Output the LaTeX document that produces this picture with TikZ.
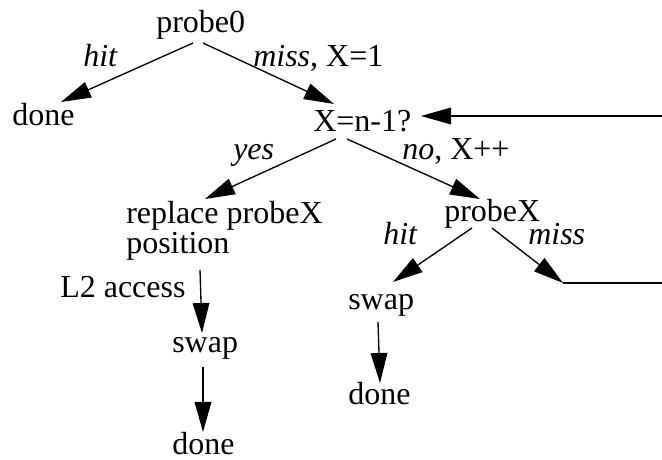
\documentclass[tikz,border=0pt]{standalone}
\usepackage{fontspec}
\setmainfont{Liberation Serif}
\usetikzlibrary{arrows.meta}
\begin{document}
\begin{tikzpicture}[x=0.75pt,y=-0.75pt,
  txt/.style={inner sep=0pt, anchor=base west, font=\fontsize{24}{22.5}\selectfont},
  lbl/.style={inner sep=0pt, anchor=base west, font=\fontsize{24}{22.5}\selectfont},
  arr/.style={line width=1pt, -{Triangle[length=22.5pt,width=12.5pt]}},
  ln/.style={line width=1pt}]
\useasboundingbox (0,0) rectangle (662,460);
% nodes
\node[txt] (probe0) at (156,33) {probe0};
\node[txt] (done1) at (12,126) {done};
\node[txt] (xq) at (313,132) {X=n-1?};
\node[txt, align=left] (rep) at (126,253) {replace probeX\\position};
\node[txt] (probeX) at (444,222) {probeX};
\node[txt] (swapR) at (348,310) {swap};
\node[txt] (doneR) at (348,405) {done};
\node[txt] (swapL) at (172,353) {swap};
\node[txt] (doneL) at (172,455) {done};
% labels
\node[lbl] (lhit1) at (83,67) {\textit{hit}};
\node[lbl] (lmiss1) at (253,67) {\textit{miss}, X=1};
\node[lbl] (lyes) at (233,160) {\textit{yes}};
\node[lbl] (lno) at (402,160) {\textit{no}, X++};
\node[lbl] (lhit2) at (383,245) {\textit{hit}};
\node[lbl] (lmiss2) at (528,245) {\textit{miss}};
\node[lbl] (ll2) at (60,298) {L2 access};
% free ends
\coordinate (loopin) at (662,116);
\coordinate (missend) at (563,283);
\coordinate (loopout) at (662,283);
% connectors
\draw[arr] ([shift={(37,10)}]probe0.base west) -- ([shift={(49,-24)}]done1.base west);
\draw[arr] ([shift={(47,10)}]probe0.base west) -- ([shift={(21,-28)}]xq.base west);
\draw[arr] (loopin) -- ([shift={(108,-16)}]xq.base west);
\draw[arr] ([shift={(23,7)}]xq.base west) -- ([shift={(79,-54)}]rep.base west);
\draw[arr] ([shift={(34,7)}]xq.base west) -- ([shift={(36,-23)}]probeX.base west);
\draw[arr] ([shift={(28,6)}]probeX.base west) -- ([shift={(45,-28)}]swapR.base west);
\draw[arr] ([shift={(48,6)}]probeX.base west) -- (missend);
\draw[ln] (missend) -- (loopout);
\draw[arr] ([shift={(30,12)}]swapR.base west) -- ([shift={(32,-22)}]doneR.base west);
\draw[arr] ([shift={(74,17)}]rep.base west) -- ([shift={(30,-20)}]swapL.base west);
\draw[arr] ([shift={(31,14)}]swapL.base west) -- ([shift={(31,-23)}]doneL.base west);
\end{tikzpicture}
\end{document}
